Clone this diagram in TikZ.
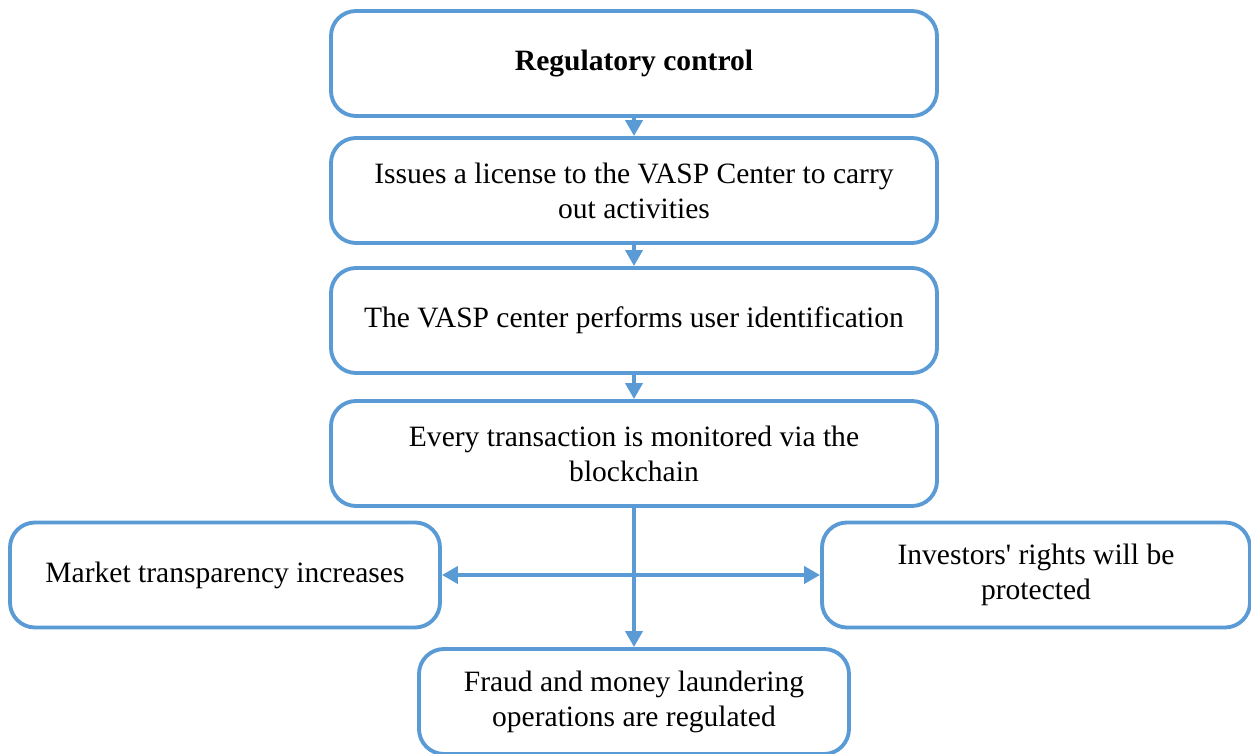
\documentclass[tikz,border=0pt]{standalone}
\usepackage{fontspec}
\setmainfont{Liberation Serif}
\usepackage{xcolor}
\usetikzlibrary{arrows.meta,positioning,calc}
\definecolor{stepblue}{RGB}{91,155,213}

\begin{document}
\begin{tikzpicture}[
    >={Triangle[length=3.2mm,width=3.4mm]},
    flow/.style={->,line width=2.2pt,draw=stepblue},
    twoway/.style={<->,line width=2.2pt,draw=stepblue},
    stage/.style={draw=stepblue,line width=2.2pt,rounded corners=5mm,
      minimum width=12.12cm,minimum height=2.1cm,align=center,
      font=\fontsize{16.8}{19.9}\selectfont},
    outcome/.style={stage,minimum width=8.6cm}
  ]
    \useasboundingbox (0,0) rectangle (25.02,-15.08);
    % Main chain of control
    \node[stage] (ctrl) at (12.68,-1.27) {\textbf{Regulatory control}};
    \node[stage] (license) at (12.68,-3.81)
      {Issues a license to the VASP Center to carry\\out activities};
    \node[stage] (ident) at (12.68,-6.41)
      {The VASP center performs user identification};
    \node[stage] (monitor) at (12.68,-9.07)
      {Every transaction is monitored via the\\blockchain};
    % Results
    \node[outcome] (transp) at (4.5,-11.5) {Market transparency increases};
    \node[outcome,minimum width=8.56cm] (rights) at (20.72,-11.5)
      {Investors\textquotesingle{} rights will be\\protected};
    \node[outcome] (fraud) at (12.68,-14.03)
      {Fraud and money laundering\\operations are regulated};
    \draw[flow] (ctrl) -- (license);
    \draw[flow] (license) -- (ident);
    \draw[flow] (ident) -- (monitor);
    \draw[flow] (monitor) -- (fraud);
    \draw[twoway] (transp) -- (rights);
  \end{tikzpicture}
\end{document}
